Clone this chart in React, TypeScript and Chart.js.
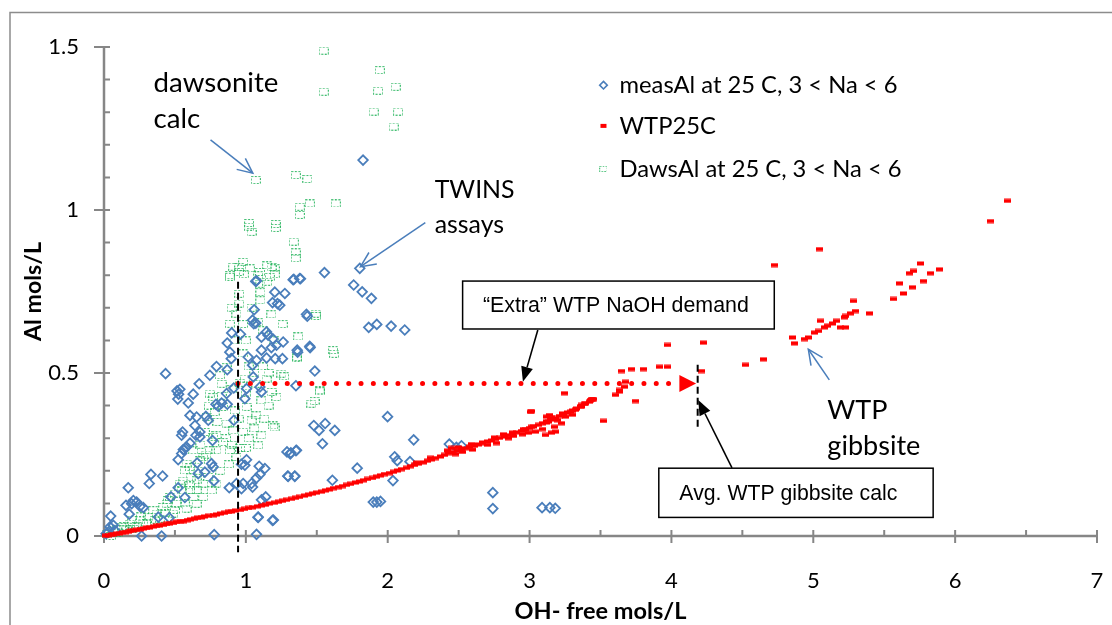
import React, { useEffect, useRef } from "react";
import { Chart, registerables } from "chart.js";

Chart.register(...registerables);

const W = 1112;
const H = 625;

// ---------- axes ----------
const X_MIN = 0;
const X_MAX = 7;
const Y_MIN = 0;
const Y_MAX = 1.5;
const xTickValues = [0, 1, 2, 3, 4, 5, 6, 7];
const xTickLabels = ["0", "1", "2", "3", "4", "5", "6", "7"];
const yTickValues = [0, 0.5, 1, 1.5];
const yTickLabels = ["0", "0.5", "1", "1.5"];
const xMinorStep = 0.5;
const yMinorStep = 0.1;
const xTitle = "OH- free mols/L";
const yTitle = "Al mols/L";

// ---------- series ----------
const seriesLabels = ["measAl at 25 C, 3 < Na < 6", "WTP25C", "DawsAl at 25 C, 3 < Na < 6"];

const measAl: number[][] = [
  [0.434, 0.498], [0.52, 0.42], [0.526, 0.435], [0.515, 0.445], [0.535, 0.45], [0.594, 0.408], [0.629, 0.435],
  [0.671, 0.467], [0.746, 0.493], [0.793, 0.52], [0.869, 0.51], [0.887, 0.564], [0.869, 0.592], [0.897, 0.544],
  [0.9, 0.623], [0.962, 0.619], [1.059, 0.694], [1.047, 0.662], [1.056, 0.651], [1.07, 0.653], [1.07, 0.781],
  [1.204, 0.748], [1.188, 0.716], [1.223, 0.713], [1.239, 0.708], [1.275, 0.744], [1.333, 0.786], [1.385, 0.789],
  [1.554, 0.808], [1.427, 0.68], [1.45, 0.582], [1.362, 0.57], [1.258, 0.544], [1.207, 0.544], [1.146, 0.546],
  [1.18, 0.578], [1.216, 0.585], [1.19, 0.605], [1.157, 0.616], [1.146, 0.626], [1.11, 0.61], [1.263, 0.595],
  [1.11, 0.57], [1.075, 0.539], [1.047, 0.524], [1.016, 0.549], [1.052, 0.488], [1.099, 0.457], [1.11, 0.442],
  [1.005, 0.452], [0.993, 0.421], [0.915, 0.355], [0.915, 0.454], [0.864, 0.437], [0.869, 0.404], [0.805, 0.398],
  [0.789, 0.404], [0.829, 0.408], [0.735, 0.355], [0.718, 0.367], [0.653, 0.365], [0.641, 0.339], [0.676, 0.319],
  [0.648, 0.309], [0.676, 0.304], [0.606, 0.37], [0.554, 0.319], [0.547, 0.309], [0.559, 0.265], [0.547, 0.253],
  [0.523, 0.234], [0.563, 0.265], [0.582, 0.273], [0.606, 0.285], [0.657, 0.224], [0.711, 0.196], [0.758, 0.222],
  [0.77, 0.212], [0.664, 0.191], [0.765, 0.293], [0.775, 0.169], [0.331, 0.189], [0.319, 0.161], [0.413, 0.184],
  [0.171, 0.148], [0.155, 0.094], [0.178, 0.067], [0.047, 0.061], [0.042, 0.028], [0.066, 0.033], [0.077, 0.017],
  [0.03, 0.012], [0.015, 0.007], [0.207, 0.109], [0.23, 0.104], [0.254, 0.091], [0.195, 0.099], [0.277, 0.087],
  [0.383, 0.058], [0.472, 0.12], [0.523, 0.148], [0.57, 0.118], [0.46, 0.056], [0.406, 0.0], [0.265, 0.0],
  [0.777, 0.004], [1.075, 0.005], [0.934, 0.161], [0.883, 0.148], [0.969, 0.145], [0.981, 0.161], [0.993, 0.217],
  [1.005, 0.234], [0.969, 0.22], [1.04, 0.161], [1.047, 0.15], [1.099, 0.189], [1.094, 0.214], [1.134, 0.207],
  [1.075, 0.178], [1.11, 0.111], [1.14, 0.12], [1.087, 0.058], [1.188, 0.048], [1.298, 0.183], [1.345, 0.183],
  [1.317, 0.255], [1.357, 0.263], [1.29, 0.258], [1.486, 0.506], [1.479, 0.339], [1.516, 0.324], [1.559, 0.345],
  [1.54, 0.283], [1.627, 0.324], [1.61, 0.171], [1.866, 0.64], [1.923, 0.649], [2.024, 0.644], [2.12, 0.632],
  [1.433, 0.674], [1.353, 0.461], [1.453, 0.578], [1.365, 0.564], [1.999, 0.366], [2.183, 0.295], [1.313, 0.252],
  [1.353, 0.262], [2.049, 0.243], [2.067, 0.231], [2.037, 0.17], [2.157, 0.228], [1.785, 0.208], [1.295, 0.184],
  [1.345, 0.184], [2.434, 0.282], [2.484, 0.272], [2.52, 0.277], [1.898, 0.104], [1.923, 0.104], [1.949, 0.106],
  [2.741, 0.133], [2.741, 0.084], [3.088, 0.087], [3.143, 0.087], [3.181, 0.085], [1.086, 0.057], [1.194, 0.049],
  [1.826, 1.153], [1.803, 0.821], [1.38, 0.79], [1.338, 0.787], [1.76, 0.77], [1.82, 0.749], [1.885, 0.729],
  [1.075, 0.783],
];

const wtp25c: number[][] = [
  [0.01, 0.001], [0.03, 0.003], [0.05, 0.004], [0.07, 0.005], [0.09, 0.007], [0.11, 0.008], [0.13, 0.011],
  [0.15, 0.012], [0.17, 0.013], [0.19, 0.016], [0.21, 0.017], [0.23, 0.019], [0.26, 0.021], [0.28, 0.023],
  [0.3, 0.025], [0.32, 0.026], [0.35, 0.029], [0.37, 0.031], [0.39, 0.032], [0.42, 0.034], [0.44, 0.037],
  [0.46, 0.038], [0.49, 0.04], [0.51, 0.043], [0.54, 0.045], [0.56, 0.046], [0.59, 0.049], [0.61, 0.051],
  [0.64, 0.053], [0.66, 0.056], [0.69, 0.057], [0.71, 0.06], [0.74, 0.062], [0.77, 0.064], [0.79, 0.066],
  [0.82, 0.069], [0.85, 0.071], [0.88, 0.074], [0.9, 0.075], [0.93, 0.078], [0.96, 0.08], [0.99, 0.083],
  [1.02, 0.086], [1.05, 0.088], [1.08, 0.091], [1.11, 0.094], [1.14, 0.096], [1.17, 0.1], [1.2, 0.102],
  [1.23, 0.105], [1.26, 0.108], [1.29, 0.111], [1.32, 0.114], [1.35, 0.117], [1.38, 0.12], [1.41, 0.124],
  [1.44, 0.127], [1.47, 0.13], [1.5, 0.133], [1.53, 0.136], [1.56, 0.14], [1.59, 0.143], [1.62, 0.147],
  [1.65, 0.15], [1.68, 0.153], [1.71, 0.157], [1.74, 0.16], [1.77, 0.164], [1.8, 0.167], [1.83, 0.171],
  [1.86, 0.175], [1.89, 0.178], [1.92, 0.182], [1.95, 0.186], [1.98, 0.19], [2.01, 0.193], [2.04, 0.197],
  [2.07, 0.201], [2.1, 0.205], [2.13, 0.209], [2.16, 0.214], [2.19, 0.218], [2.22, 0.222], [2.25, 0.226],
  [2.28, 0.231], [2.31, 0.235], [2.34, 0.239], [2.37, 0.244], [2.4, 0.249], [2.43, 0.254], [2.46, 0.258],
  [2.49, 0.262], [2.52, 0.266], [2.55, 0.269], [2.58, 0.274], [2.61, 0.277], [2.64, 0.281], [2.67, 0.285],
  [2.7, 0.29], [2.73, 0.293], [2.76, 0.297], [2.79, 0.301], [2.82, 0.305], [2.85, 0.309], [2.88, 0.314],
  [2.91, 0.318], [2.94, 0.322], [2.97, 0.327], [3.0, 0.331], [3.03, 0.336], [3.06, 0.341], [3.09, 0.346],
  [3.12, 0.352], [3.15, 0.357], [3.18, 0.362], [3.21, 0.368], [3.24, 0.373], [3.27, 0.379], [3.3, 0.385],
  [3.33, 0.391], [3.36, 0.398], [3.39, 0.405], [3.42, 0.412], [3.45, 0.42],
  [2.2, 0.225], [2.3, 0.24], [2.42, 0.262], [2.45, 0.27], [2.48, 0.251], [2.5, 0.272], [2.53, 0.258],
  [2.59, 0.282], [2.665, 0.287], [2.753, 0.302], [2.766, 0.285], [2.816, 0.312], [2.879, 0.317], [2.89, 0.307],
  [2.954, 0.328], [3.017, 0.335], [2.992, 0.317], [3.01, 0.381], [3.04, 0.32], [3.118, 0.348], [3.156, 0.363],
  [3.093, 0.328], [3.156, 0.317], [3.122, 0.366], [3.134, 0.351], [3.173, 0.335], [3.186, 0.32], [3.109, 0.31],
  [3.224, 0.346], [3.25, 0.366], [3.289, 0.381], [3.327, 0.387], [3.366, 0.397], [3.392, 0.407], [3.43, 0.417],
  [3.443, 0.42], [3.434, 0.42], [3.364, 0.402], [3.235, 0.376], [3.141, 0.371], [3.012, 0.383], [3.245, 0.438],
  [2.6, 0.265], [2.7, 0.28], [2.85, 0.3], [2.95, 0.312], [3.2, 0.355], [3.3, 0.372],
  [3.52, 0.353], [3.606, 0.433], [3.631, 0.443], [3.634, 0.448], [3.648, 0.506], [3.669, 0.458], [3.675, 0.473],
  [3.72, 0.512], [3.744, 0.414], [3.803, 0.512], [3.913, 0.519], [3.97, 0.519], [3.974, 0.586], [4.209, 0.506],
  [4.225, 0.593], [4.522, 0.525], [4.646, 0.542], [4.73, 0.831],
  [4.854, 0.609], [4.871, 0.591], [4.937, 0.604], [4.967, 0.609], [5.007, 0.624], [5.037, 0.629], [5.054, 0.66],
  [5.077, 0.64], [5.1, 0.645], [5.136, 0.652], [5.164, 0.66], [5.195, 0.64], [5.225, 0.64], [5.218, 0.671],
  [5.23, 0.675], [5.265, 0.683], [5.296, 0.69], [5.282, 0.721], [5.394, 0.683], [5.563, 0.727], [5.606, 0.775],
  [5.634, 0.744], [5.676, 0.806], [5.704, 0.813], [5.7, 0.763], [5.758, 0.836], [5.775, 0.782], [5.829, 0.806],
  [5.887, 0.818], [5.042, 0.88], [6.25, 0.966], [6.37, 1.028],
];

const dawsAl: number[][] = [
  [1.549, 1.489], [1.549, 1.363], [1.944, 1.429], [1.932, 1.366], [2.056, 1.378], [1.901, 1.302], [2.073, 1.302],
  [2.042, 1.256], [1.07, 1.092], [1.352, 1.107], [1.434, 1.095], [1.451, 1.02], [1.634, 1.02], [1.38, 1.01],
  [1.38, 0.985], [1.023, 0.949], [1.04, 0.933], [1.023, 0.96], [1.211, 0.957], [1.211, 0.945], [1.338, 0.903],
  [1.352, 0.852], [1.352, 0.87], [0.911, 0.826], [0.981, 0.841], [1.028, 0.821], [1.204, 0.821], [1.169, 0.795],
  [0.887, 0.795], [0.95, 0.81], [1.1, 0.81], [1.15, 0.83],
  [0.887, 0.8], [0.986, 0.803], [1.087, 0.8], [1.204, 0.803], [0.953, 0.825], [1.181, 0.825], [1.103, 0.774],
  [1.103, 0.748], [1.103, 0.723], [0.953, 0.743], [0.953, 0.713], [0.934, 0.682], [0.887, 0.651], [1.087, 0.656],
  [1.122, 0.631], [1.369, 0.612], [1.493, 0.682], [1.362, 0.549], [1.615, 0.57], [1.251, 0.498], [1.146, 0.483],
  [1.075, 0.467], [0.993, 0.483], [1.181, 0.442], [1.11, 0.416], [1.216, 0.426], [1.521, 0.447], [1.462, 0.406],
  [1.192, 0.339], [1.075, 0.37], [1.005, 0.396], [1.04, 0.355], [1.11, 0.309], [1.087, 0.278], [0.864, 0.518],
  [0.817, 0.493], [0.829, 0.467], [0.746, 0.437], [0.77, 0.426], [0.84, 0.396], [0.923, 0.385], [0.864, 0.345],
  [0.911, 0.324], [0.723, 0.365], [0.711, 0.319], [0.77, 0.304], [0.84, 0.288], [0.793, 0.263], [0.887, 0.263],
  [0.934, 0.242], [0.629, 0.263], [0.676, 0.232], [0.582, 0.222], [0.57, 0.201], [0.653, 0.171], [0.606, 0.155],
  [0.735, 0.181], [0.793, 0.161], [0.465, 0.12], [0.512, 0.099], [0.582, 0.084], [0.488, 0.069], [0.653, 0.099],
  [0.371, 0.069], [0.312, 0.058], [0.254, 0.048], [0.183, 0.038], [0.124, 0.028], [0.066, 0.017], [0.019, 0.007],
  [0.547, 0.14], [0.606, 0.14], [0.653, 0.14], [0.7, 0.161], [0.441, 0.099], [0.394, 0.053], [0.277, 0.038],
  [0.207, 0.022], [0.793, 0.309], [0.746, 0.263], [0.7, 0.242], [0.606, 0.211], [0.535, 0.161], [0.418, 0.089],
  [0.347, 0.079], [1.622, 0.559], [1.496, 0.675], [1.484, 0.414], [1.521, 0.444], [1.27, 0.49], [1.358, 0.546],
  [1.202, 0.333],
  [0.98, 0.56], [1.0, 0.6], [1.02, 0.52], [1.06, 0.5], [1.12, 0.52], [1.16, 0.5], [1.0, 0.44], [0.96, 0.47],
  [0.9, 0.45], [0.95, 0.36], [0.98, 0.32], [1.02, 0.3], [1.06, 0.33], [1.13, 0.36], [1.16, 0.4], [0.88, 0.22],
  [0.82, 0.2], [0.76, 0.14], [0.7, 0.12], [0.63, 0.12], [0.57, 0.1], [0.5, 0.08], [0.43, 0.07], [0.36, 0.05],
  [0.3, 0.04], [0.23, 0.03], [0.16, 0.02], [0.1, 0.01], [0.05, 0.0], [0.09, 0.02], [0.14, 0.03], [0.2, 0.05],
  [0.26, 0.06], [0.68, 0.28], [0.72, 0.25], [0.66, 0.2], [0.61, 0.18], [0.56, 0.17], [0.5, 0.13], [0.45, 0.11],
  [0.8, 0.35], [0.83, 0.43], [0.78, 0.38], [0.74, 0.4], [0.86, 0.3], [0.9, 0.28], [0.96, 0.27], [1.0, 0.27],
  [0.92, 0.6], [0.9, 0.7], [0.98, 0.65], [1.04, 0.7], [1.15, 0.78], [1.2, 0.6], [1.18, 0.68], [1.26, 0.65],
];

// ---------- annotations (data coordinates) ----------
const extraDemandY = 0.468;
const extraDemandX = [0.945, 4.0];
const extraArrowTipX = 4.174;
const extraArrowBaseX = 4.056;
const dawsoniteCut = { x: 0.945, y1: 0.78, y2: -0.05 };
const gibbsiteCut = { x: 4.185, y1: 0.525, y2: 0.33 };
const extraBox = { x1: 2.528, x2: 4.725, y1: 0.782, y2: 0.635, textX: 2.671, text: "\u201CExtra\u201D WTP NaOH demand" };
const avgBox = { x1: 3.911, x2: 5.845, y1: 0.208, y2: 0.057, textX: 4.056, text: "Avg. WTP gibbsite calc" };
const extraArrow = { x1: 3.058, y1: 0.632, x2: 2.953, y2: 0.473 };
const avgArrow = { x1: 4.427, y1: 0.209, x2: 4.189, y2: 0.417 };
const dawsoniteArrow = { x1: 0.751, y1: 1.215, x2: 1.049, y2: 1.113 };
const twinsArrow = { x1: 2.265, y1: 0.961, x2: 1.808, y2: 0.826 };
const gibbsiteArrow = { x1: 5.113, y1: 0.479, x2: 4.965, y2: 0.573 };
const dawsoniteText = { x: 0.349, lines: ["dawsonite", "calc"], ys: [1.363, 1.252] };
const twinsText = { x: 2.331, lines: ["TWINS", "assays"], ys: [1.037, 0.929] };
const gibbsiteText = { x: 5.099, lines: ["WTP", "gibbsite"], ys: [0.358, 0.248] };
const legendPos = { markerX: 3.521, textX: 3.634, ys: [1.383, 1.258, 1.126] };

const CAL = "Lato, 'Open Sans', sans-serif";
const ARIAL = "'Liberation Sans', Arial, sans-serif";
const BLUE = "#4a7ebb";
const RED = "#ff0000";
const AXIS = "#868686";

function fitFont(ctx: CanvasRenderingContext2D, text: string, target: number, weight: string, family: string) {
  ctx.font = `${weight} 20px ${family}`;
  const w = ctx.measureText(text).width;
  const size = (20 * target) / w;
  ctx.font = `${weight} ${size}px ${family}`;
  return size;
}

function drawArrow(
  ctx: CanvasRenderingContext2D,
  x1: number, y1: number, x2: number, y2: number,
  color: string, width: number, filled: boolean, len: number, half: number
) {
  const ang = Math.atan2(y2 - y1, x2 - x1);
  const bx = x2 - len * Math.cos(ang);
  const by = y2 - len * Math.sin(ang);
  const px = -Math.sin(ang);
  const py = Math.cos(ang);
  ctx.save();
  ctx.strokeStyle = color;
  ctx.fillStyle = color;
  ctx.lineWidth = width;
  ctx.lineCap = "butt";
  ctx.beginPath();
  ctx.moveTo(x1, y1);
  if (filled) ctx.lineTo(bx, by);
  else ctx.lineTo(x2, y2);
  ctx.stroke();
  if (filled) {
    ctx.beginPath();
    ctx.moveTo(x2, y2);
    ctx.lineTo(bx + px * half, by + py * half);
    ctx.lineTo(bx - px * half, by - py * half);
    ctx.closePath();
    ctx.fill();
  } else {
    ctx.beginPath();
    ctx.moveTo(bx + px * half, by + py * half);
    ctx.lineTo(x2, y2);
    ctx.lineTo(bx - px * half, by - py * half);
    ctx.stroke();
  }
  ctx.restore();
}

function makeRedMarker() {
  const c = document.createElement("canvas");
  c.width = 7;
  c.height = 5;
  const g = c.getContext("2d")!;
  g.fillStyle = RED;
  g.fillRect(0, 0.5, 7, 4);
  return c;
}

function makeGreenMarker(w: number, h: number, alpha: number) {
  const c = document.createElement("canvas");
  c.width = w;
  c.height = h;
  const g = c.getContext("2d")!;
  g.strokeStyle = `rgba(35,180,90,${alpha})`;
  g.lineWidth = 1;
  g.setLineDash([2, 1.5]);
  g.strokeRect(0.5, 0.5, w - 1, h - 1);
  return c;
}

export default function App() {
  const ref = useRef<HTMLCanvasElement>(null);

  useEffect(() => {
    const canvas = ref.current!;
    const redMarker = makeRedMarker();
    const greenMarker = makeGreenMarker(10, 8, 0.85);

    const decor = {
      id: "decor",
      beforeDraw(chart: any) {
        const ctx: CanvasRenderingContext2D = chart.ctx;
        ctx.save();
        ctx.fillStyle = "#ffffff";
        ctx.fillRect(0, 0, W, H);
        ctx.strokeStyle = "#8c8c8c";
        ctx.lineWidth = 1.5;
        ctx.beginPath();
        ctx.moveTo(10, H);
        ctx.lineTo(10, 12.5);
        ctx.lineTo(W, 12.5);
        ctx.stroke();
        ctx.restore();
      },
      beforeDatasetsDraw(chart: any) {
        const ctx: CanvasRenderingContext2D = chart.ctx;
        const xs = chart.scales.x;
        const ys = chart.scales.y;
        const x0 = xs.getPixelForValue(X_MIN);
        const x1 = xs.getPixelForValue(X_MAX);
        const y0 = ys.getPixelForValue(Y_MIN);
        const y1 = ys.getPixelForValue(Y_MAX);
        ctx.save();
        ctx.strokeStyle = AXIS;
        ctx.lineWidth = 2;
        ctx.beginPath();
        for (let v = X_MIN; v <= X_MAX + 1e-9; v += xMinorStep) {
          const p = xs.getPixelForValue(v);
          const major = Math.abs(v - Math.round(v)) < 1e-9;
          ctx.moveTo(p, y0 - 6);
          ctx.lineTo(p, major ? y0 + 7 : y0);
        }
        for (let i = 0; i <= Math.round((Y_MAX - Y_MIN) / yMinorStep); i++) {
          const v = Y_MIN + i * yMinorStep;
          const p = ys.getPixelForValue(v);
          const major = i % 5 === 0;
          ctx.moveTo(major ? x0 - 10 : x0, p);
          ctx.lineTo(x0 + 6, p);
        }
        ctx.stroke();
        ctx.lineWidth = 2.5;
        ctx.beginPath();
        ctx.moveTo(x0, y1);
        ctx.lineTo(x0, y0);
        ctx.lineTo(x1, y0);
        ctx.stroke();

        // tick labels
        ctx.fillStyle = "#000";
        ctx.font = `22px ${CAL}`;
        ctx.textBaseline = "middle";
        ctx.textAlign = "center";
        xTickValues.forEach((v, i) => ctx.fillText(xTickLabels[i], xs.getPixelForValue(v), y0 + 45));
        ctx.textAlign = "right";
        yTickValues.forEach((v, i) => ctx.fillText(yTickLabels[i], x0 - 25, ys.getPixelForValue(v)));

        // axis titles
        ctx.textAlign = "center";
        fitFont(ctx, xTitle, 172, "bold", CAL);
        ctx.fillText(xTitle, (x0 + x1) / 2, y0 + 75);
        ctx.save();
        ctx.translate(x0 - 70, (y0 + y1) / 2);
        ctx.rotate(-Math.PI / 2);
        fitFont(ctx, yTitle, 99, "bold", CAL);
        ctx.fillText(yTitle, 0, 0);
        ctx.restore();
        ctx.restore();
      },
      afterDatasetsDraw(chart: any) {
        const ctx: CanvasRenderingContext2D = chart.ctx;
        const xs = chart.scales.x;
        const ys = chart.scales.y;
        const px = (v: number) => xs.getPixelForValue(v);
        const py = (v: number) => ys.getPixelForValue(v);
        ctx.save();

        // red arrowhead of the dotted line
        const ah = 8.5;
        ctx.fillStyle = RED;
        ctx.beginPath();
        ctx.moveTo(px(extraArrowTipX), py(extraDemandY));
        ctx.lineTo(px(extraArrowBaseX), py(extraDemandY) - ah);
        ctx.lineTo(px(extraArrowBaseX), py(extraDemandY) + ah);
        ctx.closePath();
        ctx.fill();

        // black dashed vertical lines
        ctx.strokeStyle = "#000";
        ctx.lineWidth = 2;
        ctx.setLineDash([7, 4]);
        [dawsoniteCut, gibbsiteCut].forEach((c) => {
          ctx.beginPath();
          ctx.moveTo(px(c.x), py(c.y1));
          ctx.lineTo(px(c.x), py(c.y2));
          ctx.stroke();
        });
        ctx.setLineDash([]);

        // boxes
        [extraBox, avgBox].forEach((b) => {
          const bx = px(b.x1);
          const by = py(b.y1);
          const bw = px(b.x2) - bx;
          const bh = py(b.y2) - by;
          ctx.fillStyle = "#fff";
          ctx.fillRect(bx, by, bw, bh);
          ctx.strokeStyle = "#000";
          ctx.lineWidth = 1.5;
          ctx.strokeRect(bx, by, bw, bh);
        });
        ctx.fillStyle = "#000";
        ctx.textAlign = "left";
        ctx.textBaseline = "middle";
        fitFont(ctx, extraBox.text, 266, "normal", ARIAL);
        ctx.fillText(extraBox.text, px(extraBox.textX), (py(extraBox.y1) + py(extraBox.y2)) / 2 + 1);
        fitFont(ctx, avgBox.text, 218, "normal", ARIAL);
        ctx.fillText(avgBox.text, px(avgBox.textX), (py(avgBox.y1) + py(avgBox.y2)) / 2 + 1);

        // arrows
        drawArrow(ctx, px(extraArrow.x1), py(extraArrow.y1), px(extraArrow.x2), py(extraArrow.y2), "#000", 1.6, true, 15, 6);
        drawArrow(ctx, px(avgArrow.x1), py(avgArrow.y1), px(avgArrow.x2), py(avgArrow.y2), "#000", 1.6, true, 15, 6);
        drawArrow(ctx, px(dawsoniteArrow.x1), py(dawsoniteArrow.y1), px(dawsoniteArrow.x2), py(dawsoniteArrow.y2), BLUE, 1.5, false, 15, 7);
        drawArrow(ctx, px(twinsArrow.x1), py(twinsArrow.y1), px(twinsArrow.x2), py(twinsArrow.y2), BLUE, 1.5, false, 15, 7);
        drawArrow(ctx, px(gibbsiteArrow.x1), py(gibbsiteArrow.y1), px(gibbsiteArrow.x2), py(gibbsiteArrow.y2), BLUE, 1.5, false, 15, 7);

        // free text labels
        ctx.fillStyle = "#000";
        ctx.textBaseline = "alphabetic";
        fitFont(ctx, "dawsonite", 125, "normal", CAL);
        dawsoniteText.lines.forEach((t, i) => ctx.fillText(t, px(dawsoniteText.x), py(dawsoniteText.ys[i])));
        fitFont(ctx, "TWINS", 80, "normal", CAL);
        twinsText.lines.forEach((t, i) => ctx.fillText(t, px(twinsText.x), py(twinsText.ys[i])));
        fitFont(ctx, "gibbsite", 93, "normal", CAL);
        gibbsiteText.lines.forEach((t, i) => ctx.fillText(t, px(gibbsiteText.x), py(gibbsiteText.ys[i])));

        // legend
        const mx = px(legendPos.markerX);
        const ly = legendPos.ys.map(py);
        ctx.strokeStyle = BLUE;
        ctx.lineWidth = 1.6;
        ctx.beginPath();
        ctx.moveTo(mx, ly[0] - 3.8);
        ctx.lineTo(mx + 3.8, ly[0]);
        ctx.lineTo(mx, ly[0] + 3.8);
        ctx.lineTo(mx - 3.8, ly[0]);
        ctx.closePath();
        ctx.stroke();
        ctx.fillStyle = RED;
        ctx.fillRect(mx - 3, ly[1] - 2, 6, 4);
        ctx.drawImage(greenMarker, mx - 4, ly[2] - 3, 8, 6);
        ctx.fillStyle = "#000";
        ctx.textBaseline = "middle";
        const size = fitFont(ctx, seriesLabels[0], 278, "normal", CAL);
        ctx.font = `${size}px ${CAL}`;
        seriesLabels.forEach((t, i) => ctx.fillText(t, px(legendPos.textX), ly[i]));

        ctx.restore();
      },
    };

    const toXY = (arr: number[][]) => arr.map(([x, y]) => ({ x, y }));

    const chart = new Chart(canvas, {
      type: "scatter",
      data: {
        datasets: [
          {
            label: "Extra WTP NaOH demand",
            data: [
              { x: extraDemandX[0], y: extraDemandY },
              { x: extraDemandX[1], y: extraDemandY },
            ],
            showLine: true,
            borderColor: RED,
            borderWidth: 5,
            borderDash: [0, 12.3],
            borderCapStyle: "round",
            pointRadius: 0,
            clip: false,
            order: 0,
          } as any,
          {
            label: seriesLabels[1],
            data: toXY(wtp25c),
            pointStyle: redMarker,
            pointRadius: 3,
            clip: false,
            order: 1,
          } as any,
          {
            label: seriesLabels[0],
            data: toXY(measAl),
            pointStyle: "rectRot",
            pointRadius: 4.8,
            borderColor: BLUE,
            borderWidth: 1.8,
            backgroundColor: "rgba(0,0,0,0)",
            clip: false,
            order: 2,
          } as any,
          {
            label: seriesLabels[2],
            data: toXY(dawsAl),
            pointStyle: greenMarker,
            pointRadius: 4,
            clip: false,
            order: 3,
          } as any,
        ],
      },
      options: {
        responsive: false,
        animation: false,
        devicePixelRatio: 1,
        events: [],
        layout: { padding: { left: 104, right: 15, top: 47, bottom: 89 } },
        plugins: { legend: { display: false }, tooltip: { enabled: false } },
        scales: {
          x: { type: "linear", min: X_MIN, max: X_MAX, display: false },
          y: { type: "linear", min: Y_MIN, max: Y_MAX, display: false },
        },
      } as any,
      plugins: [decor],
    });
    return () => chart.destroy();
  }, []);

  return (
    <div style={{ position: "absolute", left: 0, top: 0, width: W, height: H, background: "#fff" }}>
      <canvas ref={ref} width={W} height={H} style={{ display: "block", width: W, height: H }} />
    </div>
  );
}
